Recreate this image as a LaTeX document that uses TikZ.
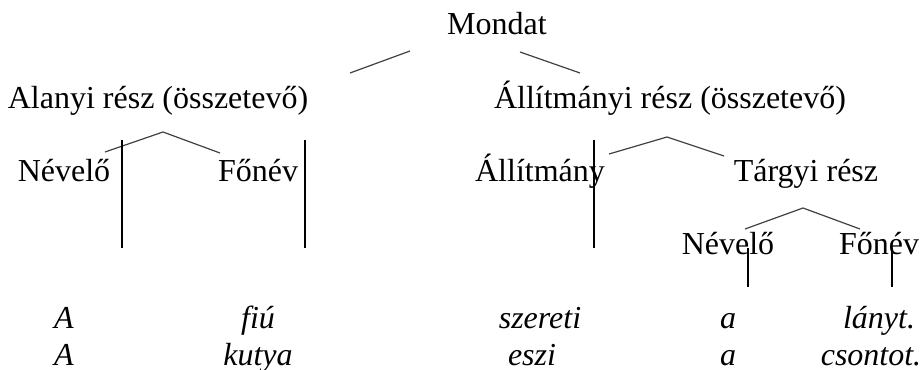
\documentclass[tikz,border=0pt]{standalone}
\usepackage{fontspec}
\setmainfont{Liberation Serif}
\usetikzlibrary{positioning}

\begin{document}
\begin{tikzpicture}[x=0.75pt, y=-0.75pt, outer sep=0,
        cat/.style={inner sep=0, anchor=base, font=\fontsize{24}{28}\selectfont},
        word/.style={inner sep=0, anchor=base, font=\fontsize{24}{28}\selectfont\itshape},
        branch/.style={line width=0.9pt, black!75},
        stem/.style={line width=1.8pt}]
        \useasboundingbox (0,0) rectangle (924,370);
        % categories
        \node [cat] (mondat) at (497,35) {Mondat};
        \node [cat] (alany) at (158,109) {Alanyi rész (összetevő)};
        \node [cat] (allr) at (670,109) {Állítmányi rész (összetevő)};
        \node [cat] (nev1) at (64,182) {Névelő};
        \node [cat] (fon1) at (258,182) {Főnév};
        \node [cat] (allit) at (540,182) {Állítmány};
        \node [cat] (targy) at (806,182) {Tárgyi rész};
        \node [cat] (nev2) at (728,255) {Névelő};
        \node [cat] (fon2) at (879,255) {Főnév};
        % sentences
        \coordinate (row1) at (0,328);
        \coordinate (row2) at (0,365);
        \node [word] (a1) at (nev1 |- row1) {A};
        \node [word] (fiu) at (fon1 |- row1) {fiú};
        \node [word] (szer) at (allit |- row1) {szereti};
        \node [word] (a2) at (nev2 |- row1) {a};
        \node [word] (lany) at (fon2 |- row1) {lányt.};
        \node [word] (a3) at (nev1 |- row2) {A};
        \node [word] (kutya) at (fon1 |- row2) {kutya};
        \node [word] (eszi) at ([xshift=-6]allit |- row2) {eszi};
        \node [word] (a4) at (nev2 |- row2) {a};
        \node [word] (cson) at ([xshift=-6]fon2 |- row2) {csontot.};
        % branches
        \coordinate (m1) at (350,73);
        \coordinate (m2) at (410,51);
        \coordinate (m3) at (520,52);
        \coordinate (m4) at (580,73);
        \coordinate (al1) at (105,152);
        \coordinate (al2) at (163,132);
        \coordinate (al3) at (220,153);
        \coordinate (ar1) at (609,154);
        \coordinate (ar2) at (667,137);
        \coordinate (ar3) at (724,156);
        \coordinate (t1) at (745,229);
        \coordinate (t2) at (803,208);
        \coordinate (t3) at (860,229);
        \draw [branch] (m1) -- (m2);
        \draw [branch] (m3) -- (m4);
        \draw [branch] (al1) -- (al2) -- (al3);
        \draw [branch] (ar1) -- (ar2) -- (ar3);
        \draw [branch] (t1) -- (t2) -- (t3);
        % stems
        \coordinate (s1) at (121.7,140);
        \coordinate (s2) at (305,140);
        \coordinate (s3) at (594,140);
        \coordinate (s4) at (748,248);
        \coordinate (s5) at (892,248);
        \draw [stem] (s1) -- ++(0,108);
        \draw [stem] (s2) -- ++(0,108);
        \draw [stem] (s3) -- ++(0,108);
        \draw [stem] (s4) -- ++(0,39);
        \draw [stem] (s5) -- ++(0,39);
\end{tikzpicture}
\end{document}
